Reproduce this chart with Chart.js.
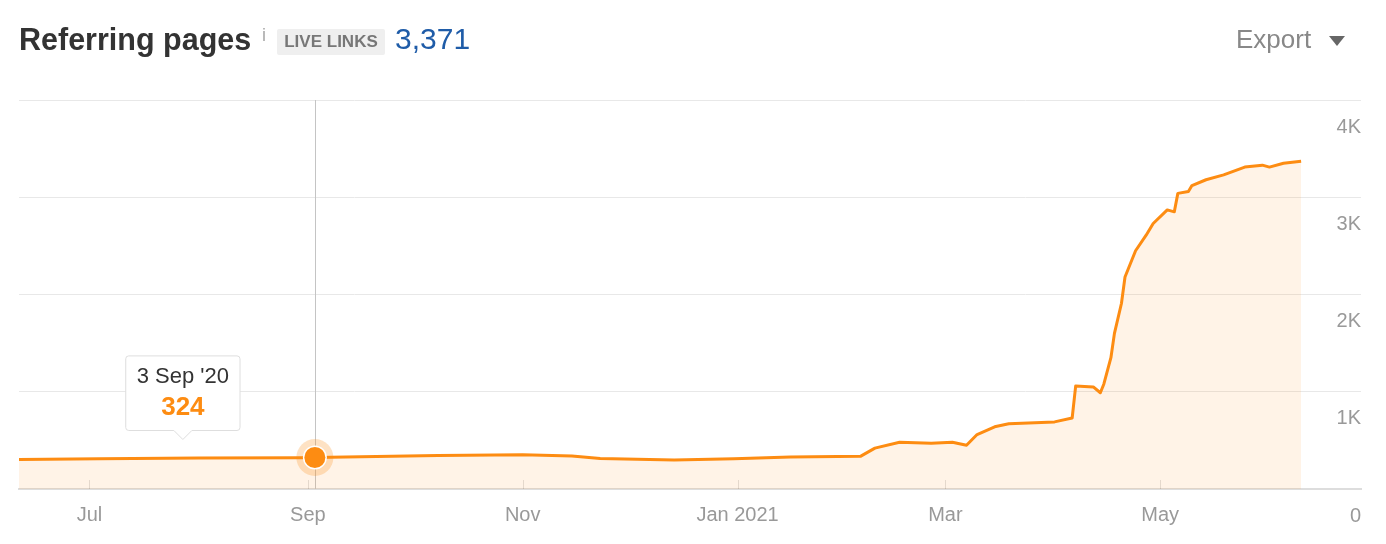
<!DOCTYPE html>
<html>
<head>
<meta charset="utf-8">
<script src="https://cdn.jsdelivr.net/npm/chart.js@4.4.1/dist/chart.umd.min.js"></script>
<style>
  body { margin: 0; background: #fff; font-family: Arial, "Liberation Sans", sans-serif; }
  #wrap { position: relative; width: 1386px; height: 544px; overflow: hidden; }
  #chart { position: absolute; left: 0; top: 0; }
  .hd { position: absolute; white-space: nowrap; line-height: 1; }
  #title { left: 19px; top: 24px; font-size: 30.5px; font-weight: bold; color: #333; }
  #info { left: 262px; top: 26px; font-size: 18px; color: #aaa; }
  #badge { left: 277px; top: 29px; width: 108px; height: 26px; line-height: 26px; background: #efefef;
           font-size: 17px; font-weight: bold; color: #777; text-align: center; border-radius: 2px; }
  #count { left: 395px; top: 24px; font-size: 30px; color: #1f5ca8; }
  #export { left: 1236px; top: 26px; font-size: 26px; color: #888; }
  #arrow { left: 1329px; top: 36px; width: 0; height: 0; border-left: 8px solid transparent;
           border-right: 8px solid transparent; border-top: 10px solid #666; }
</style>
</head>
<body>
<div id="wrap">
  <canvas id="chart" width="1386" height="544"></canvas>
  <div class="hd" id="title">Referring pages</div>
  <div class="hd" id="info">i</div>
  <div class="hd" id="badge">LIVE LINKS</div>
  <div class="hd" id="count">3,371</div>
  <div class="hd" id="export">Export</div>
  <div class="hd" id="arrow"></div>
</div>
<script>
// referring pages
const dates = [
  "2020-06-11", "2020-07-04", "2020-08-01", "2020-08-30", "2020-09-03",
  "2020-10-08", "2020-11-01", "2020-11-15", "2020-11-23", "2020-12-14",
  "2020-12-31", "2021-01-16", "2021-02-05", "2021-02-09", "2021-02-16",
  "2021-02-25", "2021-03-03", "2021-03-07", "2021-03-10", "2021-03-15",
  "2021-03-19", "2021-04-01", "2021-04-06", "2021-04-07", "2021-04-12",
  "2021-04-14", "2021-04-15", "2021-04-17", "2021-04-18", "2021-04-20",
  "2021-04-21", "2021-04-24", "2021-04-27", "2021-04-29", "2021-05-03",
  "2021-05-05", "2021-05-06", "2021-05-09", "2021-05-10", "2021-05-14",
  "2021-05-19", "2021-05-25", "2021-05-30", "2021-06-01", "2021-06-05",
  "2021-06-10"
];
const pages = [
  303, 312, 318, 322, 324,
  345, 352, 340, 314, 298,
  312, 328, 338, 420, 480,
  470, 480, 450, 560, 640,
  670, 690, 730, 1060, 1050,
  990, 1080, 1350, 1600, 1910,
  2180, 2450, 2610, 2730, 2870,
  2850, 3040, 3060, 3120, 3180,
  3230, 3310, 3330, 3310, 3350,
  3371
];
const xTickDates = ["2020-07-01", "2020-09-01", "2020-11-01", "2021-01-01", "2021-03-01", "2021-05-01"];
const xTickLabels = ["Jul", "Sep", "Nov", "Jan 2021", "Mar", "May"];
const yTickValues = [0, 1000, 2000, 3000, 4000];
const yTickLabels = ["0", "1K", "2K", "3K", "4K"];
const xMin = "2020-06-11";
const xMax = "2021-06-27";
const hoverDate = "2020-09-03";

const months = ["Jan", "Feb", "Mar", "Apr", "May", "Jun", "Jul", "Aug", "Sep", "Oct", "Nov", "Dec"];
const orange = "#fd8c12";

function dayOf(s) {
  const p = s.split("-");
  return Date.UTC(+p[0], +p[1] - 1, +p[2]) / 86400000;
}

function fmtDate(s) {
  const p = s.split("-");
  return (+p[2]) + " " + months[+p[1] - 1] + " '" + p[0].slice(2);
}

const hoverIndex = dates.indexOf(hoverDate);

Chart.Tooltip.positioners.pinned = function (items) {
  if (!items.length) return false;
  const el = items[0].element;
  return { x: el.x - 132, y: el.y - 18 };
};

// crosshair, little ticks on the axis, and the highlighted point
const extras = {
  id: "extras",
  beforeDatasetsDraw(chart) {
    const ctx = chart.ctx;
    const area = chart.chartArea;
    const x = chart.scales.x;
    ctx.save();
    ctx.strokeStyle = "rgba(0,0,0,0.12)";
    ctx.lineWidth = 1;
    x.ticks.forEach((t) => {
      const px = Math.round(x.getPixelForValue(t.value)) + 0.5;
      ctx.beginPath();
      ctx.moveTo(px, area.bottom - 9);
      ctx.lineTo(px, area.bottom);
      ctx.stroke();
    });
    const el = chart.getDatasetMeta(0).data[hoverIndex];
    const cx = Math.round(el.x) + 0.5;
    ctx.strokeStyle = "#c4c4c4";
    ctx.beginPath();
    ctx.moveTo(cx, area.top);
    ctx.lineTo(cx, area.bottom);
    ctx.stroke();
    ctx.restore();
  },
  afterDatasetsDraw(chart) {
    const ctx = chart.ctx;
    const el = chart.getDatasetMeta(0).data[hoverIndex];
    ctx.save();
    ctx.fillStyle = "rgba(253,140,18,0.25)";
    ctx.beginPath();
    ctx.arc(el.x, el.y, 18.5, 0, Math.PI * 2);
    ctx.fill();
    ctx.fillStyle = "#fff";
    ctx.beginPath();
    ctx.arc(el.x, el.y, 12, 0, Math.PI * 2);
    ctx.fill();
    ctx.fillStyle = orange;
    ctx.beginPath();
    ctx.arc(el.x, el.y, 10.5, 0, Math.PI * 2);
    ctx.fill();
    ctx.restore();
  },
};

const chart = new Chart(document.getElementById("chart"), {
  type: "line",
  data: {
    datasets: [
      {
        label: "Referring pages",
        data: dates.map((d, i) => ({ x: dayOf(d), y: pages[i] })),
        borderColor: orange,
        borderWidth: 3,
        backgroundColor: "rgba(253,140,18,0.1)",
        fill: "origin",
        tension: 0,
        pointRadius: 0,
        pointHoverRadius: 0,
        borderJoinStyle: "round",
      },
    ],
  },
  options: {
    responsive: false,
    animation: false,
    events: [],
    layout: { padding: { left: 19, right: 25, top: 100, bottom: 11 } },
    plugins: {
      legend: { display: false },
      tooltip: {
        position: "pinned",
        xAlign: "center",
        yAlign: "bottom",
        backgroundColor: "#fff",
        borderColor: "#dedede",
        borderWidth: 1,
        cornerRadius: 3,
        caretSize: 9,
        caretPadding: 0,
        displayColors: false,
        padding: { top: 8, bottom: 7, left: 11, right: 11 },
        titleAlign: "center",
        bodyAlign: "center",
        titleColor: "#333",
        titleFont: { family: "Arial, 'Liberation Sans'", size: 22, weight: "normal" },
        titleMarginBottom: 2,
        bodyColor: orange,
        bodyFont: { family: "Arial, 'Liberation Sans'", size: 26, weight: "bold" },
        callbacks: {
          title: (items) => fmtDate(dates[items[0].dataIndex]),
          label: (item) => String(item.parsed.y),
        },
      },
    },
    scales: {
      x: {
        type: "linear",
        min: dayOf(xMin),
        max: dayOf(xMax),
        afterBuildTicks: (scale) => {
          scale.ticks = xTickDates.map((d) => ({ value: dayOf(d) }));
        },
        grid: { display: false },
        border: { display: true, color: "#dddddd", width: 2 },
        ticks: {
          autoSkip: false,
          maxRotation: 0,
          padding: 6,
          color: "#999",
          font: { family: "Arial, 'Liberation Sans'", size: 20 },
          callback: (v, i) => xTickLabels[i],
        },
      },
      y: {
        position: "right",
        min: 0,
        max: 4000,
        afterBuildTicks: (scale) => {
          scale.ticks = yTickValues.map((v) => ({ value: v }));
        },
        grid: {
          drawTicks: false,
          color: (c) => (c.tick && c.tick.value === 0 ? "rgba(0,0,0,0)" : "#e8e8e8"),
        },
        border: { display: false },
        ticks: {
          mirror: true,
          padding: 0,
          labelOffset: 27,
          color: "#999",
          font: { family: "Arial, 'Liberation Sans'", size: 20 },
          callback: (v, i) => yTickLabels[i],
        },
      },
    },
  },
  plugins: [extras],
});

const active = [{ datasetIndex: 0, index: hoverIndex }];
chart.setActiveElements(active);
chart.tooltip.setActiveElements(active, { x: 0, y: 0 });
chart.update();
</script>
</body>
</html>
